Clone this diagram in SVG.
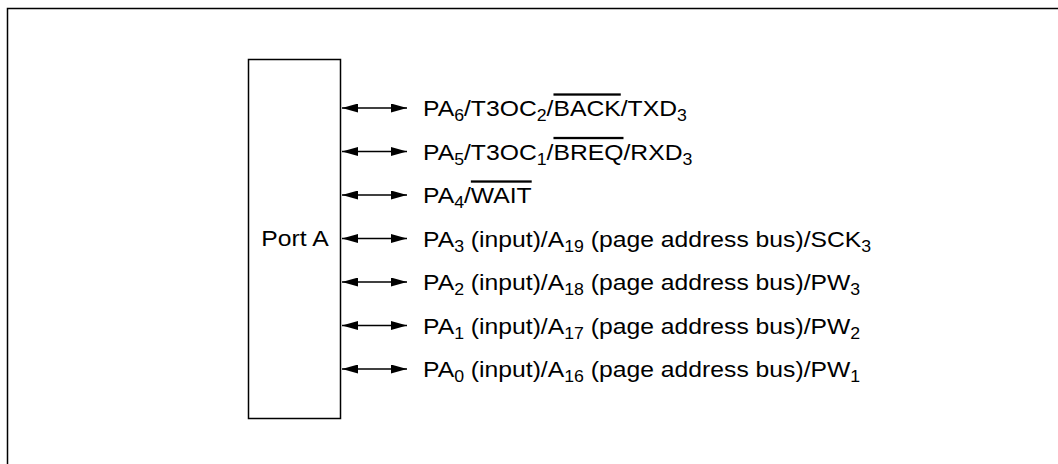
<svg xmlns="http://www.w3.org/2000/svg" width="1058" height="464" viewBox="0 0 1058 464">
<defs>
<marker id="ah" viewBox="0 0 16 9" refX="16" refY="4.5" markerWidth="16" markerHeight="9" markerUnits="userSpaceOnUse" orient="auto-start-reverse">
<path d="M0,0 L16,4.5 L0,9 Z" fill="#000"/>
</marker>
<style>
.t{font-family:"Liberation Sans",Arial,sans-serif;font-size:23px;fill:#000}
.s{font-size:16.5px}
.o{text-decoration:overline}
.c{stroke:#000;stroke-width:1.6;fill:none}
</style>
</defs>
<rect x="0" y="0" width="1058" height="464" fill="#fff"/>
<rect x="7.5" y="8.5" width="1100" height="500" fill="none" stroke="#000" stroke-width="1.5"/>
<g id="portA">
<rect x="248.5" y="59.5" width="92" height="359" fill="#fff" stroke="#000" stroke-width="1.5"/>
<text class="t" transform="translate(295,0) scale(1.075,1)" x="0" y="246.5" text-anchor="middle">Port A</text>
</g>
<g id="connectors">
<line class="c" x1="342" y1="108" x2="407" y2="108" marker-start="url(#ah)" marker-end="url(#ah)"/>
<line class="c" x1="342" y1="151.5" x2="407" y2="151.5" marker-start="url(#ah)" marker-end="url(#ah)"/>
<line class="c" x1="342" y1="195" x2="407" y2="195" marker-start="url(#ah)" marker-end="url(#ah)"/>
<line class="c" x1="342" y1="238.5" x2="407" y2="238.5" marker-start="url(#ah)" marker-end="url(#ah)"/>
<line class="c" x1="342" y1="282" x2="407" y2="282" marker-start="url(#ah)" marker-end="url(#ah)"/>
<line class="c" x1="342" y1="325.5" x2="407" y2="325.5" marker-start="url(#ah)" marker-end="url(#ah)"/>
<line class="c" x1="342" y1="369" x2="407" y2="369" marker-start="url(#ah)" marker-end="url(#ah)"/>
</g>
<g id="labels" transform="translate(423,0) scale(1.075,1)">
<text class="t" x="0" y="116.5">PA<tspan class="s" dy="5">6</tspan><tspan dy="-5">/T3OC</tspan><tspan class="s" dy="5">2</tspan><tspan dy="-5">/</tspan><tspan class="o">BACK</tspan><tspan>/TXD</tspan><tspan class="s" dy="5">3</tspan></text>
<text class="t" x="0" y="160">PA<tspan class="s" dy="5">5</tspan><tspan dy="-5">/T3OC</tspan><tspan class="s" dy="5">1</tspan><tspan dy="-5">/</tspan><tspan class="o">BREQ</tspan><tspan>/RXD</tspan><tspan class="s" dy="5">3</tspan></text>
<text class="t" x="0" y="203.5">PA<tspan class="s" dy="5">4</tspan><tspan dy="-5">/</tspan><tspan class="o">WAIT</tspan></text>
<text class="t" x="0" y="247">PA<tspan class="s" dy="5">3</tspan><tspan dy="-5"> (input)/A</tspan><tspan class="s" dy="5">19</tspan><tspan dy="-5"> (page address bus)/SCK</tspan><tspan class="s" dy="5">3</tspan></text>
<text class="t" x="0" y="290.5">PA<tspan class="s" dy="5">2</tspan><tspan dy="-5"> (input)/A</tspan><tspan class="s" dy="5">18</tspan><tspan dy="-5"> (page address bus)/PW</tspan><tspan class="s" dy="5">3</tspan></text>
<text class="t" x="0" y="334">PA<tspan class="s" dy="5">1</tspan><tspan dy="-5"> (input)/A</tspan><tspan class="s" dy="5">17</tspan><tspan dy="-5"> (page address bus)/PW</tspan><tspan class="s" dy="5">2</tspan></text>
<text class="t" x="0" y="377.5">PA<tspan class="s" dy="5">0</tspan><tspan dy="-5"> (input)/A</tspan><tspan class="s" dy="5">16</tspan><tspan dy="-5"> (page address bus)/PW</tspan><tspan class="s" dy="5">1</tspan></text>
</g>
</svg>
